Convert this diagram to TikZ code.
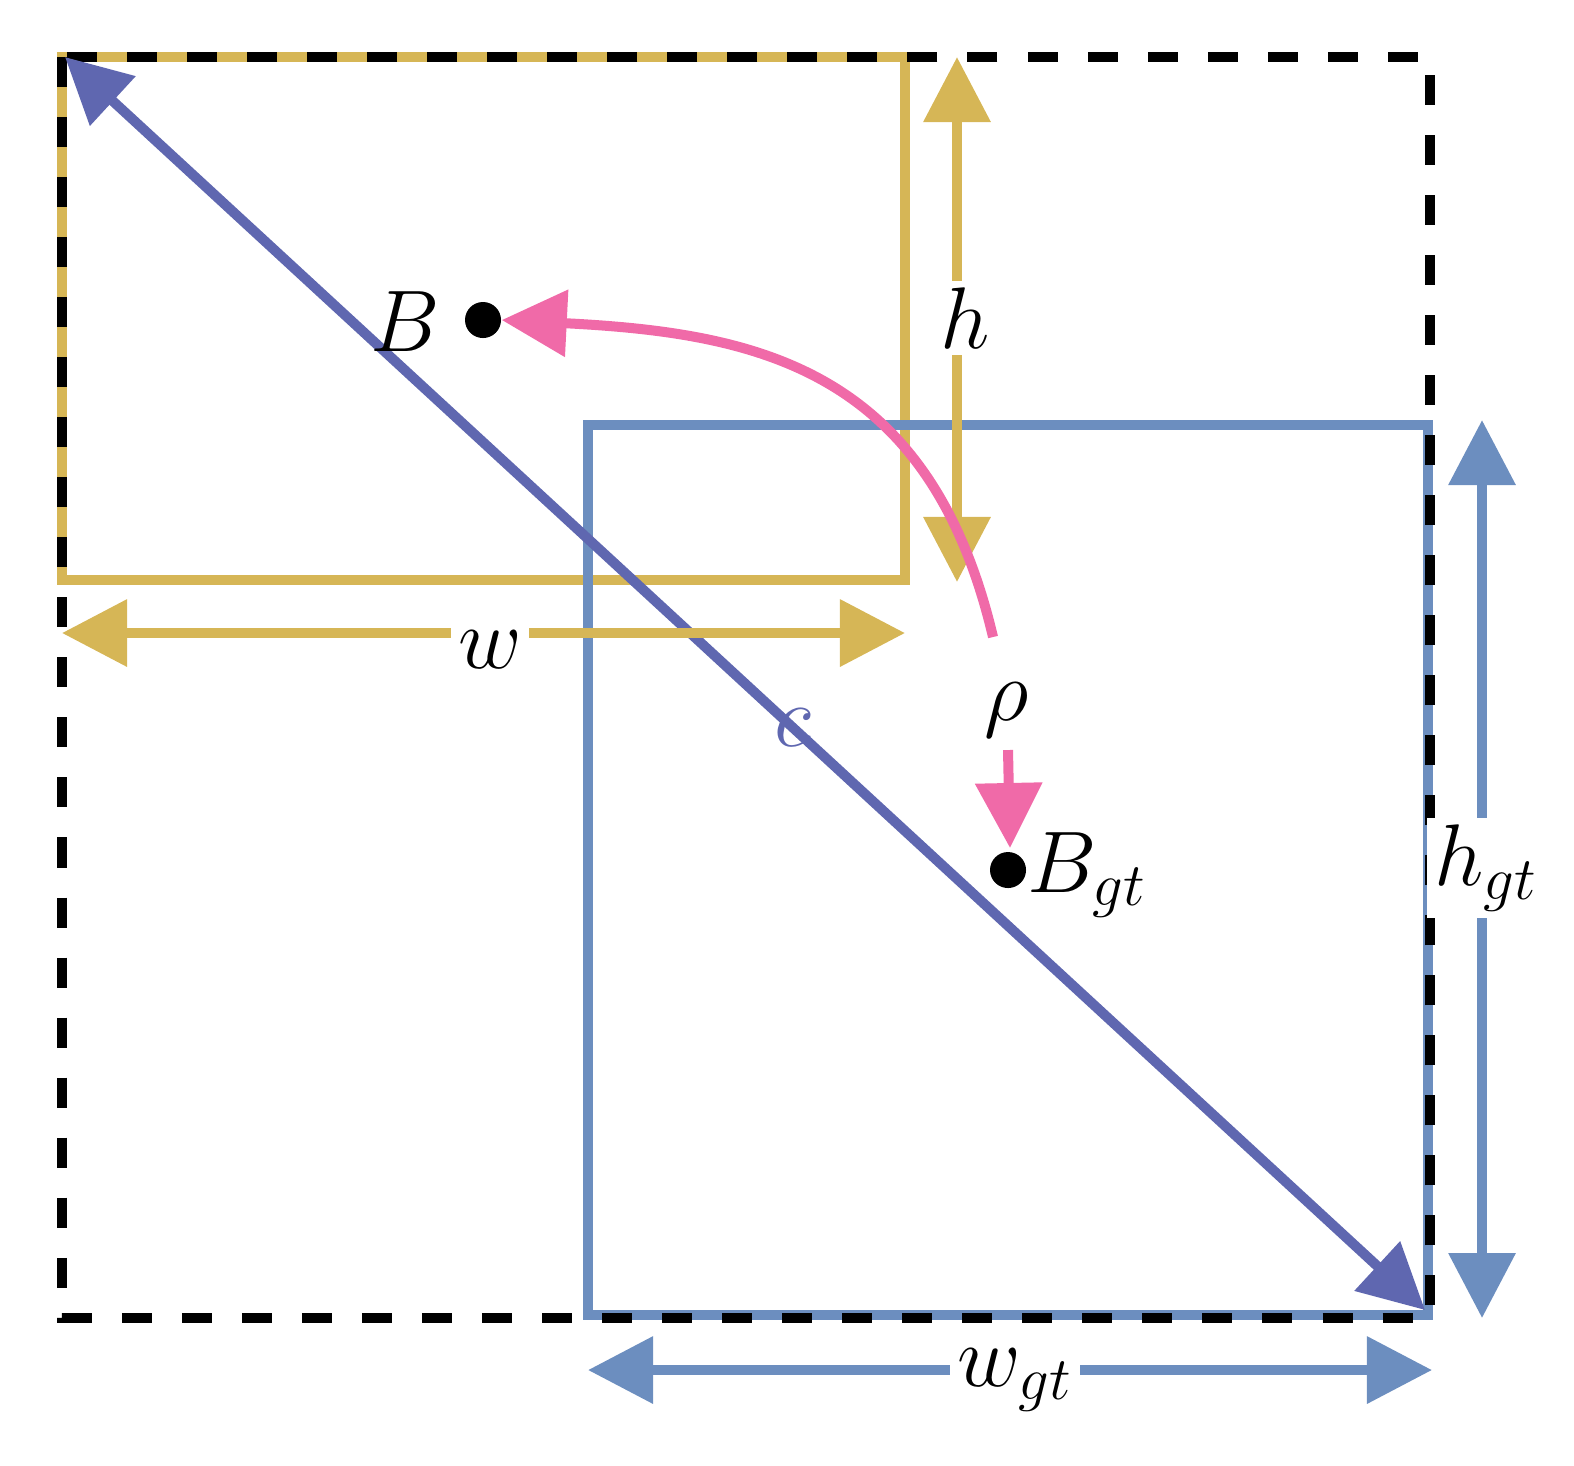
\documentclass[tikz,border=0pt]{standalone}
\usetikzlibrary{arrows.meta}
\definecolor{gold}{HTML}{D6B656}
\definecolor{bluegt}{HTML}{6C8EBF}
\definecolor{diag}{HTML}{5F67B0}
\definecolor{pink}{HTML}{F06AA8}
\begin{document}
\begin{tikzpicture}[x=0.01cm,y=-0.01cm,
  lw/.style={line width=0.1cm},
  tip/.style={-{Triangle[length=0.65cm,width=0.65cm]}},
  tips/.style={{Triangle[length=0.65cm,width=0.65cm]}-{Triangle[length=0.65cm,width=0.65cm]}},
  lab/.style={font=\fontsize{27}{32}\selectfont, fill=white, inner sep=2pt},
  dot/.style={circle,fill=black,minimum size=0.36cm,inner sep=0}]
\useasboundingbox (0,0) rectangle (1574,1465);
% yellow box
\draw[lw,gold] (62,57) rectangle (905,580);
% blue box
\draw[lw,bluegt] (588,425) rectangle (1428,1315);
% black dashed
\draw[lw,black,dash pattern=on 0.3cm off 0.3cm] (62,57) rectangle (1430,1318);
% diagonal
\coordinate (d1) at (65,57);
\coordinate (d2) at (1425,1310);
\draw[lw,diag,tips] (d1) -- (d2) node[pos=0.535,lab,fill=none] {$c$};
% w
\coordinate (w1) at (62,633); \coordinate (w2) at (905,633);
\draw[lw,gold,tips] (w1) -- (w2);
\node[lab] (wl) at (490,650) {$w$};
% h
\coordinate (h1) at (957,57); \coordinate (h2) at (957,582);
\draw[lw,gold,tips] (h1) -- (h2);
\node[lab] (hl) at (965,318) {$h$};
% wgt
\coordinate (wg1) at (588,1370); \coordinate (wg2) at (1432,1370);
\draw[lw,bluegt,tips] (wg1) -- (wg2);
\node[lab] (wgl) at (1015,1380) {$w_{gt}$};
% hgt
\coordinate (hg1) at (1482,420); \coordinate (hg2) at (1482,1318);
\draw[lw,bluegt,tips] (hg1) -- (hg2);
\node[lab] (hgl) at (1486,868) {$h_{gt}$};
% points
\node[dot] (B) at (483,320) {};
\node[lab,fill=none,anchor=east] at (448,322) {$B$};
\node[dot] (Bg) at (1008,870) {};
\node[lab,fill=none,anchor=west] at (1020,875) {$B_{gt}$};
% rho
\coordinate (r0) at (993,637);
\draw[lw,pink,tip] (r0) .. controls (930,370) and (760,333) .. (B.east);
\node[lab,fill=none] (rho) at (1007,710) {$\rho$};
\coordinate (r1) at (1008,750);
\draw[lw,pink,tip] (r1) -- (1010,848);
\end{tikzpicture}
\end{document}
